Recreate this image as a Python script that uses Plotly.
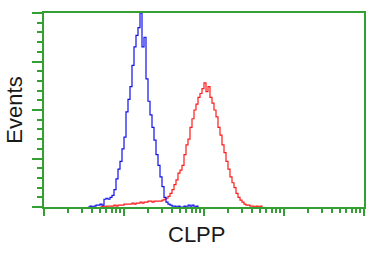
import numpy as np
import plotly.graph_objects as go

# histogram channels: 40 channels per decade on a 4-decade log scale
blue_start_ch = 22
blue_counts = [0, 1, 0, 1, 2, 2, 3, 2, 8, 9, 8, 10, 12, 18, 29, 39, 47, 60, 72, 98,
               111, 124, 146, 165, 177, 185, 200, 165, 175, 132, 109, 95, 82, 69, 54,
               43, 31, 21, 10, 5, 3, 2, 1, 1, 0, 1, 0, 0, 1, 0, 2, 1, 2, 0, 1, 0]

red_start_ch = 28
red_counts = [0, 1, 0, 1, 1, 1, 1, 2, 1, 2, 2, 2, 3, 3, 3, 3, 4, 3, 4, 4, 5, 4, 5, 5,
              6, 6, 5, 6, 6, 6, 6, 7, 8, 9, 11, 14, 18, 23, 28, 35, 38, 43, 54, 64, 70,
              82, 91, 100, 106, 113, 117, 122, 128, 119, 124, 113, 107, 100, 93, 82,
              74, 64, 56, 47, 39, 31, 25, 20, 14, 10, 7, 5, 3, 2, 2, 1, 1, 0, 1, 0, 1, 0]

x_title = "CLPP"
y_title = "Events"

blue_x = 10 ** ((blue_start_ch + np.arange(len(blue_counts))) / 40)
red_x = 10 ** ((red_start_ch + np.arange(len(red_counts))) / 40)

GREEN = "rgb(52,160,52)"
FONT = "Liberation Sans, Arial, sans-serif"

fig = go.Figure()
fig.add_trace(go.Scatter(x=red_x, y=red_counts, mode="lines", line=dict(color="#ff1a1a", width=1.2, shape="hv"),
                         showlegend=False, hoverinfo="skip"))
fig.add_trace(go.Scatter(x=blue_x, y=blue_counts, mode="lines", line=dict(color="#1010ee", width=1.2, shape="hv"),
                         showlegend=False, hoverinfo="skip"))

fig.update_layout(
    width=385, height=256,
    margin=dict(l=44, r=21, t=13, b=49),
    paper_bgcolor="white", plot_bgcolor="white",
    font=dict(family=FONT, color="#1a1a1a"),
    xaxis=dict(type="log", range=[0, 4], dtick=1, showticklabels=False,
               showgrid=False, zeroline=False,
               showline=True, linecolor=GREEN, linewidth=2, mirror=True,
               ticks="outside", ticklen=7, tickwidth=1.5, tickcolor=GREEN,
               minor=dict(ticks="outside", ticklen=4, tickwidth=1.5, tickcolor=GREEN, dtick="D1", showgrid=False)),
    yaxis=dict(range=[0, 200], dtick=50, showticklabels=False,
               showgrid=False, zeroline=False,
               showline=True, linecolor=GREEN, linewidth=2, mirror=True,
               ticks="outside", ticklen=10, tickwidth=1.5, tickcolor=GREEN,
               minor=dict(ticks="outside", ticklen=5, tickwidth=1.5, tickcolor=GREEN, dtick=10, showgrid=False),
               title=dict(text=y_title, font=dict(size=22), standoff=3)),
    annotations=[dict(text=x_title, xref="paper", yref="paper", x=0.475, y=-0.144,
                      xanchor="center", yanchor="middle", showarrow=False,
                      font=dict(size=22, family=FONT, color="#1a1a1a"))],
)

fig.write_html("out.html")
